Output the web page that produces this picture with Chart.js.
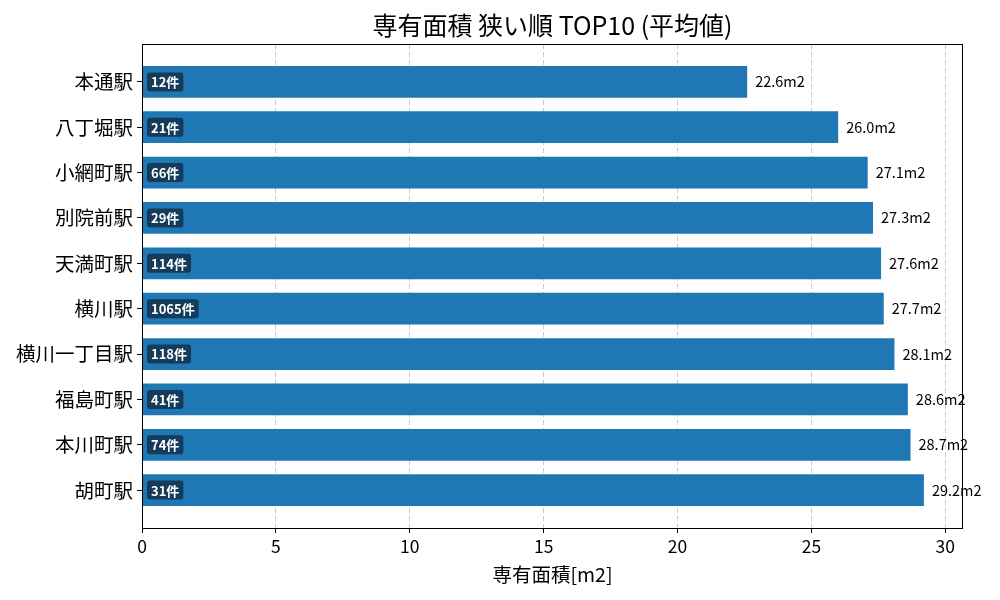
<!DOCTYPE html>
<html><head><meta charset="utf-8">
<script src="https://cdn.jsdelivr.net/npm/chart.js@4"></script>
<style>html,body{margin:0;padding:0;background:#fff}canvas{display:block}</style>
</head><body>
<canvas id="c" width="1000" height="600"></canvas>
<script>
const stations = ["本通駅","八丁堀駅","小網町駅","別院前駅","天満町駅","横川駅","横川一丁目駅","福島町駅","本川町駅","胡町駅"];
const areas = [22.6, 26.0, 27.1, 27.3, 27.6, 27.7, 28.1, 28.6, 28.7, 29.2];
const counts = [12, 21, 66, 29, 114, 1065, 118, 41, 74, 31];
const xTicks = [0, 5, 10, 15, 20, 25, 30];

const FONT = "'Noto Sans CJK JP', 'Noto Sans', sans-serif";

const labelPlugin = {
  id: 'labels',
  afterDatasetsDraw(chart) {
    const ctx = chart.ctx;
    const meta = chart.getDatasetMeta(0);
    const area = chart.chartArea;
    ctx.save();
    meta.data.forEach((bar, i) => {
      ctx.font = "14.5px " + FONT;
      ctx.fillStyle = '#000';
      ctx.textAlign = 'left';
      ctx.textBaseline = 'middle';
      ctx.fillText(areas[i].toFixed(1) + 'm2', bar.x + 8, bar.y);
      const t = counts[i] + '件';
      ctx.font = "bold 13px " + FONT;
      const w = ctx.measureText(t).width + 8;
      const h = 19;
      const bx = area.left + 5, by = bar.y - h / 2;
      ctx.fillStyle = '#153b5a';
      ctx.beginPath();
      ctx.roundRect(bx, by, w, h, 3);
      ctx.fill();
      ctx.fillStyle = '#fff';
      ctx.fillText(t, bx + 4, bar.y + 0.5);
    });
    ctx.strokeStyle = '#000';
    ctx.lineWidth = 1;
    ctx.strokeRect(Math.round(area.left) + 0.5, Math.round(area.top) + 0.5,
      Math.round(area.right - area.left) - 1, Math.round(area.bottom - area.top));
    ctx.restore();
  }
};

new Chart(document.getElementById('c'), {
  type: 'bar',
  data: {
    datasets: [{
      data: areas.map((v, i) => ({ x: v, y: i })),
      backgroundColor: '#1f77b4',
      borderWidth: 0,
      barPercentage: 0.7,
      categoryPercentage: 1.0
    }]
  },
  options: {
    indexAxis: 'y',
    responsive: false,
    animation: false,
    devicePixelRatio: 1,
    layout: { padding: { top: 0, left: 0, right: 37, bottom: 0 } },
    plugins: {
      legend: { display: false },
      tooltip: { enabled: false },
      title: {
        display: true,
        fullSize: false,
        text: '専有面積 狭い順 TOP10 (平均値)',
        font: { family: FONT, size: 25, weight: 'normal' },
        color: '#000',
        padding: { top: 10, bottom: 4 }
      }
    },
    scales: {
      x: {
        type: 'linear',
        min: 0,
        max: 30.66,
        afterFit(s) { s.height = 72; },
        afterBuildTicks(s) { s.ticks = xTicks.map(v => ({ value: v })); },
        ticks: { font: { family: FONT, size: 17.5 }, color: '#000', padding: 3, maxRotation: 0 },
        grid: {
          color: '#cccccc',
          borderDash: [5, 3],
          tickColor: '#000',
          tickBorderDash: [],
          tickLength: 5,
          lineWidth: 1
        },
        border: { display: false, dash: [5, 3] },
        title: {
          display: true,
          text: '専有面積[m2]',
          font: { family: FONT, size: 19.5 },
          color: '#000',
          padding: { top: 0, bottom: 14 }
        }
      },
      y: {
        type: 'linear',
        reverse: true,
        offset: false,
        min: -0.835,
        max: 9.835,
        afterFit(s) { s.width = 142; },
        afterBuildTicks(s) { s.ticks = stations.map((_, i) => ({ value: i })); },
        ticks: {
          font: { family: FONT, size: 19.5 },
          color: '#000',
          padding: 4,
          callback: (v) => stations[v] ?? ''
        },
        grid: { drawOnChartArea: false, offset: false, tickColor: '#000', tickLength: 5 },
        border: { display: false }
      }
    }
  },
  plugins: [labelPlugin]
});
</script>
</body></html>
